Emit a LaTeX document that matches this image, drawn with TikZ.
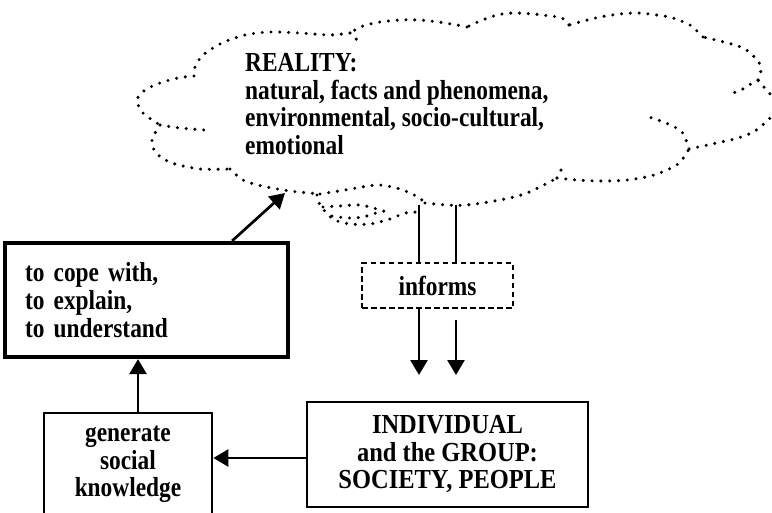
\documentclass[tikz,border=0pt]{standalone}
\usepackage{fontspec}
\setmainfont{Liberation Serif}
\newfontfamily\tallserif[FakeStretch=0.85]{Liberation Serif}
\newfontfamily\wideserif[FakeStretch=0.89]{Liberation Serif}
\usetikzlibrary{arrows.meta}
\begin{document}
\begin{tikzpicture}[x=1pt,y=-1pt,
  dots/.style={line width=3.4pt, line cap=round, dash pattern=on 0pt off 8.8pt},
  conn/.style={line width=2.7pt},
  arr/.style={conn, -{Triangle[length=15pt,width=17pt]}},
  boxfont/.style={font=\tallserif\fontsize{27.5}{27.7}\selectfont\bfseries},
  box/.style={draw, line width=2.7pt, inner sep=0pt, boxfont, align=center},
  txt/.style={boxfont, inner sep=0pt, align=left}
]
\path[use as bounding box, clip] (0,0) rectangle (772,512);

% boxes
\node[box, line width=4.2pt, minimum width=283pt, minimum height=114pt,
      text width=243pt, align=left] (cope) at (146.5,300)
      {to cope with,\\ to explain,\\ to understand};
\node[box, minimum width=168pt, minimum height=103pt] (gen) at (128,464.5)
      {generate\\ social\\ knowledge};
\node[box, minimum width=281pt, minimum height=105pt,
      font=\wideserif\fontsize{27.5}{27.5}\selectfont\bfseries] (indiv) at (447.5,454.5)
      {INDIVIDUAL\\ and the GROUP:\\ SOCIETY, PEOPLE};
\node[box, line width=2.2pt, dash pattern=on 5.5pt off 3.5pt,
      minimum width=151pt, minimum height=45pt] (inf) at (437.5,285.5) {informs};

% cloud text
\node[txt, anchor=north west] (reality) at (245,53)
      {REALITY:\\ natural, facts and phenomena,\\ environmental, socio-cultural,\\ emotional};

% dotted cloud outline
\draw[dots] plot[smooth] coordinates {(350,33) (330,35) (300,33) (270,32) (245,35) (222,43) (203,55) (195,67) (194,76)};
\draw[dots] plot[smooth] coordinates {(194,76) (178,78) (160,83) (145,90) (137,100) (143,113) (160,125)};
\draw[dots] plot[smooth] coordinates {(160,125) (152,140) (156,153) (172,163) (200,169) (230,169)};
\draw[dots] plot[smooth] coordinates {(160,125) (180,128) (205,130)};
\draw[dots] plot[smooth] coordinates {(230,169) (243,180) (262,186) (290,191) (320,194)};
\draw[dots] plot[smooth] coordinates {(320,194) (345,190) (377,185) (400,189) (418,197) (425,203)};
\draw[dots] plot[smooth] coordinates {(425,203) (447,205) (467,205) (500,200) (527,193) (557,178)};
\draw[dots] plot[smooth] coordinates {(557,178) (562,168)};
\draw[dots] plot[smooth] coordinates {(557,178) (577,180) (600,181) (627,180) (654,175) (678,164) (689,149)};
\draw[dots] plot[smooth] coordinates {(689,149) (682,132) (666,123) (649,117)};
\draw[dots] plot[smooth] coordinates {(689,149) (712,144) (738,138) (755,131) (769,119) (782,105) (771,95) (758,80)};
\draw[dots] plot[smooth] coordinates {(758,80) (761,70) (758,61) (745,49) (728,43) (703,37)};
\draw[dots] plot[smooth] coordinates {(758,80) (749,85) (741,90) (733,93)};
\draw[dots] plot[smooth] coordinates {(703,37) (697,31) (690,25) (673,18) (657,15) (638,13) (620,14) (600,17) (580,22) (569,25)};
\draw[dots] plot[smooth] coordinates {(569,25) (562,18) (550,16) (533,14) (513,13) (497,15) (480,21) (467,27)};
\draw[dots] plot[smooth] coordinates {(467,27) (457,25) (438,22) (420,20) (400,20) (380,22) (363,26) (350,33)};
\draw[dots] plot[smooth] coordinates {(350,33) (356,39) (363,42)};
\draw[dots] plot[smooth] coordinates {(569,25) (569,31)};
% swirl under the cloud
\draw[dots] plot[smooth] coordinates {(317,195) (320,205) (333,219) (350,224) (370,224) (390,219) (405,213) (418,212)};
\draw[dots] plot[smooth] coordinates {(323,207) (340,206) (360,205) (377,209) (392,214)};
\draw[dots] plot[smooth] coordinates {(332,216) (348,218) (363,217) (376,213)};

% connector end points
\coordinate (cloudA) at (285,193);
\coordinate (c1) at (419,205);
\coordinate (c2) at (456,205);
\coordinate (t1) at (419,375);
\coordinate (t2) at (456,375);
\coordinate (s2) at (456,320);

% connectors
\draw[arr] ([xshift=-58pt]cope.north east) -- (cloudA);
\draw[conn] (c1) -- (c1 |- inf.north);
\draw[conn] (c2) -- (c2 |- inf.north);
\draw[arr] (c1 |- inf.south) -- (t1);
\draw[arr] (s2) -- (t2);
\draw[arr] ([yshift=-3.5pt]indiv.west) -- ([yshift=-3.5pt]indiv.west -| gen.east);
\draw[arr] ([xshift=10pt]gen.north) -- ([xshift=10pt]gen.north |- cope.south);
\end{tikzpicture}
\end{document}
